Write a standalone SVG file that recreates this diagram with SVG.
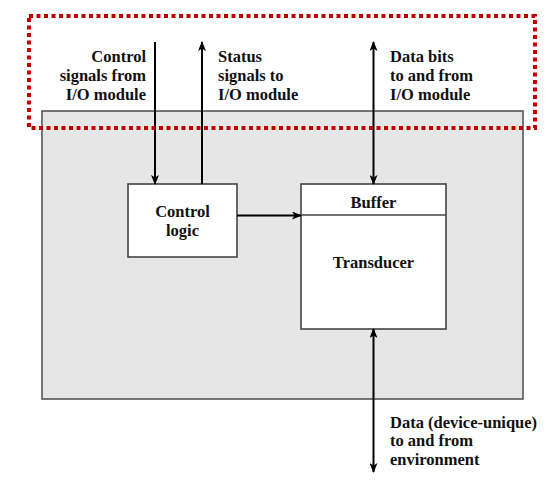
<svg xmlns="http://www.w3.org/2000/svg" width="549" height="498" viewBox="0 0 549 498">
<defs>
<marker id="ah" markerWidth="10" markerHeight="8" refX="9" refY="4" orient="auto" markerUnits="userSpaceOnUse">
<path d="M0,0 L10,4 L0,8 L2.5,4 Z" fill="#000"/>
</marker>
<marker id="ahs" markerWidth="10" markerHeight="8" refX="1" refY="4" orient="auto" markerUnits="userSpaceOnUse">
<path d="M10,0 L0,4 L10,8 L7.5,4 Z" fill="#000"/>
</marker>
</defs>
<style>
.t{font-family:"Liberation Serif","Times New Roman",serif;font-weight:bold;font-size:16.5px;fill:#111}
.c{text-anchor:middle}
.r{text-anchor:end}
.box{fill:#fff;stroke:#444;stroke-width:1.6}
.ln{stroke:#000;stroke-width:2;fill:none}
</style>
<rect width="549" height="498" fill="#fff"/>
<g id="device">
<rect x="42" y="111" width="481" height="288" fill="#e6e6e6" stroke="#555" stroke-width="1.6"/>
</g>
<g id="control-logic">
<rect class="box" x="128" y="184" width="109" height="73"/>
<text class="t c" x="182.5" y="217">Control</text>
<text class="t c" x="182.5" y="236">logic</text>
</g>
<g id="buffer-transducer">
<rect class="box" x="301" y="184" width="145" height="145"/>
<line x1="301" y1="215" x2="446" y2="215" stroke="#444" stroke-width="1.6"/>
<text class="t c" x="373.5" y="208">Buffer</text>
<text class="t c" x="373.5" y="268">Transducer</text>
</g>
<g id="connectors">
<line class="ln" x1="155" y1="42" x2="155" y2="184" marker-end="url(#ah)"/>
<line class="ln" x1="202" y1="184" x2="202" y2="42" marker-end="url(#ah)"/>
<line class="ln" x1="373.5" y1="42" x2="373.5" y2="184" marker-start="url(#ahs)" marker-end="url(#ah)"/>
<line class="ln" x1="237" y1="215.5" x2="301" y2="215.5" marker-end="url(#ah)"/>
<line class="ln" x1="373.5" y1="329" x2="373.5" y2="472" marker-start="url(#ahs)" marker-end="url(#ah)"/>
</g>
<g id="labels">
<text class="t r" x="146" y="62">Control</text>
<text class="t r" x="146" y="81">signals from</text>
<text class="t r" x="146" y="100">I/O module</text>
<text class="t" x="218" y="62">Status</text>
<text class="t" x="218" y="81">signals to</text>
<text class="t" x="218" y="100">I/O module</text>
<text class="t" x="390" y="62">Data bits</text>
<text class="t" x="390" y="81">to and from</text>
<text class="t" x="390" y="100">I/O module</text>
<text class="t" x="390" y="428">Data (device-unique)</text>
<text class="t" x="390" y="446">to and from</text>
<text class="t" x="390" y="465">environment</text>
</g>
<g id="highlight">
<rect x="29" y="16" width="506" height="112" fill="none" stroke="#c00000" stroke-width="4" stroke-dasharray="4,3.5"/>
</g>
</svg>
